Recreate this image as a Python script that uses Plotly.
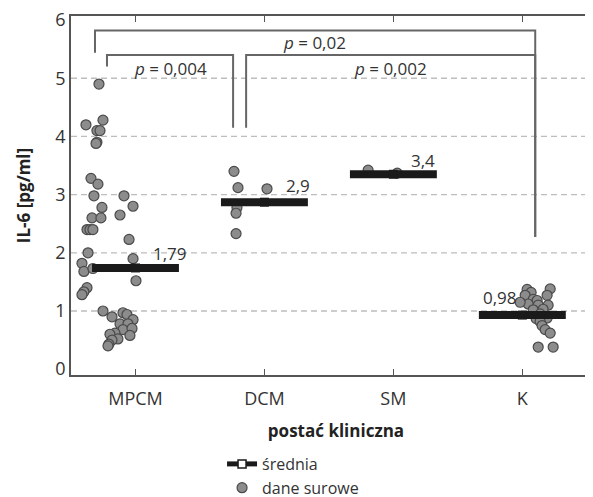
import plotly.graph_objects as go

categories = ["MPCM", "DCM", "SM", "K"]
y_ticks = [0, 1, 2, 3, 4, 5, 6]
grid_values = [1, 2, 3, 4, 5]

# raw data: jitter offset (category units) and IL-6 value
mpcm_jitter = [-0.283, -0.384, -0.252, -0.299, -0.275, -0.299, -0.306, -0.345, -0.291, -0.322,
               -0.089, -0.26, -0.019, -0.337, -0.268, -0.12, -0.376, -0.353, -0.33, -0.05,
               -0.368, -0.019, -0.415, -0.4, -0.33, 0.004, -0.376, -0.4, -0.415, -0.252,
               -0.182, -0.097, -0.066, -0.019, -0.12, -0.058, -0.097, -0.027, -0.159, -0.198,
               -0.043, -0.136, -0.182, -0.206, -0.213]
mpcm_values = [4.9, 4.2, 4.28, 4.1, 4.1, 3.9, 3.88, 3.28, 3.18, 2.98,
               2.98, 2.78, 2.8, 2.6, 2.6, 2.65, 2.4, 2.4, 2.4, 2.23,
               2.0, 1.9, 1.82, 1.68, 1.73, 1.52, 1.4, 1.33, 1.28, 1.0,
               0.9, 0.97, 0.94, 0.85, 0.78, 0.78, 0.68, 0.7, 0.62, 0.6,
               0.58, 0.52, 0.5, 0.43, 0.4]
dcm_jitter = [-0.236, -0.205, 0.02, -0.213, -0.22, -0.22]
dcm_values = [3.4, 3.12, 3.1, 2.78, 2.68, 2.33]
sm_jitter = [-0.196, 0.03]
sm_values = [3.42, 3.37]
k_jitter = [0.037, 0.216, 0.068, 0.022, 0.192, 0.084, 0.115, 0.045, 0.123, 0.2, -0.017,
            0.084, 0.161, 0.138, 0.107, 0.192, 0.138, 0.153, 0.177, 0.216, 0.123, 0.239]
k_values = [1.37, 1.38, 1.32, 1.27, 1.27, 1.2, 1.18, 1.12, 1.1, 1.1, 1.15,
            1.02, 1.03, 0.95, 0.87, 0.88, 0.82, 0.75, 0.68, 0.62, 0.38, 0.38]

mean_values = [1.74, 2.87, 3.35, 0.93]
mean_labels = ["1,79", "2,9", "3,4", "0,98"]

p_labels = ["0,02", "0,004", "0,002"]

jitters = [mpcm_jitter, dcm_jitter, sm_jitter, k_jitter]
values = [mpcm_values, dcm_values, sm_values, k_values]

TXT = "#333333"
AX = "#555555"
FONT = "Open Sans, Noto Sans, sans-serif"

xs, ys = [], []
for i, (jit, vals) in enumerate(zip(jitters, values)):
    xs += [i + j for j in jit]
    ys += vals

fig = go.Figure()

# legend-only entry for the mean
fig.add_trace(go.Scatter(
    x=[None], y=[None], mode="lines+markers", name="średnia",
    line=dict(color="#1a1a1a", width=5),
    marker=dict(symbol="square", size=8, color="white", line=dict(color="#1a1a1a", width=1.5)),
    legendrank=1,
))

# raw data points
fig.add_trace(go.Scatter(
    x=xs, y=ys, mode="markers", name="dane surowe",
    marker=dict(size=10, color="#8c8c8c", line=dict(color="#4a4a4a", width=1.2)),
    legendrank=2,
))

# mean bars
fig.add_trace(go.Scatter(
    x=list(range(len(categories))), y=mean_values, mode="markers", showlegend=False,
    marker=dict(symbol="square", size=9, color="#1a1a1a"),
    error_x=dict(type="data", symmetric=True, array=[0.337] * len(categories),
                 thickness=8, width=0, color="#1a1a1a"),
))

shapes = []
for g in grid_values:
    shapes.append(dict(type="line", xref="paper", x0=0, x1=1, yref="y", y0=g, y1=g,
                       line=dict(color="#bdbdbd", width=1.3, dash="6px,4px"), layer="below"))

# significance brackets
brackets = [
    (-0.314, 5.44, 5.82, 3.10, 2.27),
    (-0.221, 5.20, 5.40, 0.757, 4.15),
    (0.858, 4.15, 5.40, 3.10, 2.27),
]
for x1, y1, yt, x2, y2 in brackets:
    shapes.append(dict(type="path", xref="x", yref="y",
                       path=f"M {x1},{y1} L {x1},{yt} L {x2},{yt} L {x2},{y2}",
                       line=dict(color="#666666", width=2)))

annotations = []
p_pos = [(1.385, 5.62), (0.268, 5.17), (1.974, 5.17)]
for (px, py), lab in zip(p_pos, p_labels):
    annotations.append(dict(x=px, y=py, xref="x", yref="y", text=f"<i>p</i> = {lab}",
                            showarrow=False, font=dict(size=17, color=TXT, family=FONT)))

label_dx = [0.27, 0.26, 0.23, -0.17]
label_dy = [0.25, 0.28, 0.24, 0.3]
for i, (m, lab) in enumerate(zip(mean_values, mean_labels)):
    annotations.append(dict(x=i + label_dx[i], y=m + label_dy[i], xref="x", yref="y", text=lab,
                            showarrow=False, font=dict(size=17, color=TXT, family=FONT)))

fig.update_layout(
    width=593, height=497,
    margin=dict(l=63, r=0, t=8, b=119),
    paper_bgcolor="white", plot_bgcolor="white",
    font=dict(family=FONT, color=TXT),
    shapes=shapes, annotations=annotations,
    showlegend=True,
    legend=dict(x=0.285, y=-0.202, xanchor="left", yanchor="top",
                font=dict(size=16, color=TXT, family=FONT), bgcolor="rgba(0,0,0,0)"),
    xaxis=dict(range=[-0.5, 3.61], tickmode="array", tickvals=list(range(len(categories))),
               ticktext=categories, ticks="inside", ticklen=6, tickcolor=AX, tickwidth=1.3,
               showline=True, linecolor=AX, linewidth=1.5, mirror="ticks",
               showgrid=False, zeroline=False, automargin=False, ticklabelstandoff=7,
               tickfont=dict(size=18, color=TXT, family=FONT),
               title=dict(text="<b>postać kliniczna</b>", font=dict(size=17, color="#222", family=FONT),
                          standoff=16)),
    yaxis=dict(range=[-0.1, 6.07], tickmode="array", tickvals=y_ticks, ticks="",
               showline=True, linecolor=AX, linewidth=1.5, showgrid=False, zeroline=False,
               automargin=False, ticklabeloverflow="allow",
               tickfont=dict(size=18, color=TXT, family=FONT),
               title=dict(text="<b>IL-6 [pg/ml]</b>", font=dict(size=17, color="#222", family=FONT),
                          standoff=20)),
)

fig.write_html("out.html")
